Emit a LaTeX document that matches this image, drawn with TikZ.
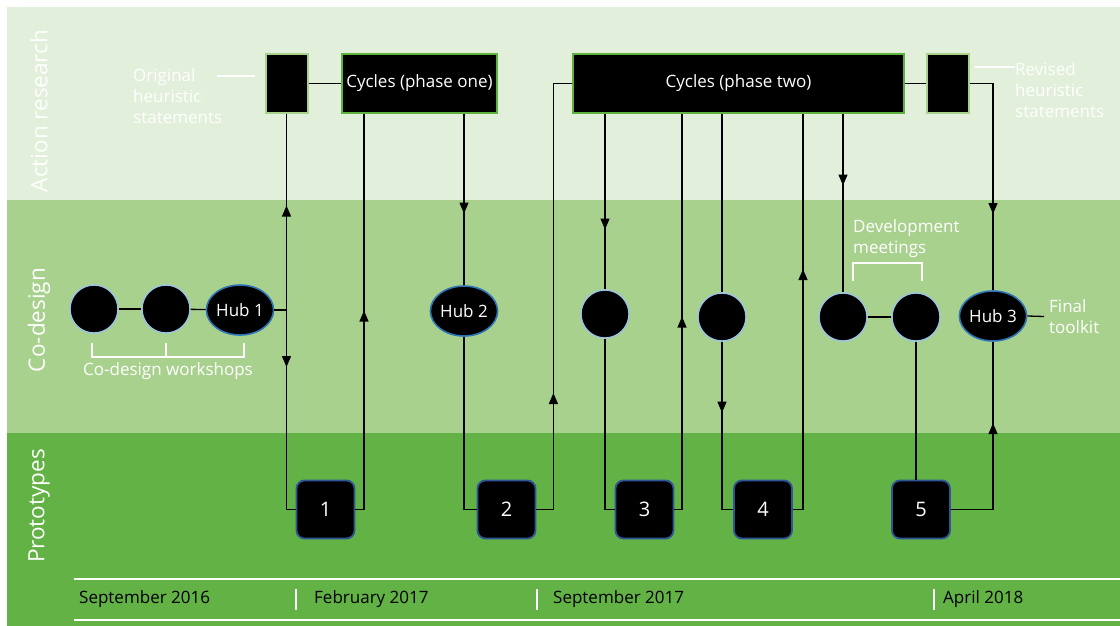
\documentclass[tikz,border=0pt]{standalone}
\usepackage{fontspec}
\setmainfont{Open Sans}
\usetikzlibrary{shapes.geometric, arrows.meta, positioning, calc, decorations.markings}

\definecolor{bandA}{HTML}{E2EFDA}
\definecolor{bandB}{HTML}{A9D18E}
\definecolor{bandC}{HTML}{62B246}
\definecolor{cyclegreen}{HTML}{5CB13F}
\definecolor{lightblue}{HTML}{9DC3E6}
\definecolor{hubblue}{HTML}{2E75B6}
\definecolor{protoblue}{HTML}{2F5597}

\begin{document}
\begin{tikzpicture}[x=1pt, y=-1pt,
    font=\fontsize{17}{21}\selectfont,
    link/.style={line width=1.3pt},
    arrowat/.style={postaction={decorate}, decoration={markings,
        mark=at position #1 with {\arrow{Triangle[length=11pt,width=9pt]}}}},
    heur/.style={rectangle, fill=black, draw=bandB, line width=2pt, minimum width=42pt, minimum height=58pt},
    cycle/.style={rectangle, fill=black, draw=cyclegreen, line width=2pt, minimum height=58pt, text=white},
    meet/.style={circle, fill=black, draw=lightblue, line width=1.4pt, minimum size=48pt, inner sep=0pt},
    hub/.style={ellipse, fill=black, draw=hubblue, line width=1.6pt, minimum width=63pt, minimum height=50pt, inner sep=0pt, text=white},
    proto/.style={rectangle, rounded corners=8pt, fill=black, draw=protoblue, line width=1.8pt, minimum size=58pt, text=white, font=\fontsize{20}{24}\selectfont},
    note/.style={text=white, align=left, inner sep=0pt},
    lane/.style={text=white, rotate=90, font=\fontsize{22.5}{26}\selectfont},
    bracket/.style={draw=white, line width=1.5pt},
    date/.style={anchor=west, inner sep=0pt}]
\useasboundingbox (0,0) rectangle (1120,626);

% Bands
\fill[bandA] (7,7) rectangle (1120,200);
\fill[bandB] (7,200) rectangle (1120,433);
\fill[bandC] (7,433) rectangle (1120,626);
\node[lane] (lar) at (39,111) {Action research};
\node[lane] (lcd) at (39,320) {Co-design};
\node[lane] (lpt) at (39,506) {Prototypes};

% Action research
\node[heur] (s1) at (286.5,83.5) {};
\node[cycle, minimum width=155pt] (cy1) at (419.5,83.5) {Cycles (phase one)};
\node[cycle, minimum width=331pt] (cy2) at (738.5,83.5) {Cycles (phase two)};
\node[heur] (s2) at (948,83.5) {};
\node[note, anchor=west] (orig) at (133,96) {Original\\heuristic\\statements};
\node[note, anchor=west] (rev) at (1015,90) {Revised\\heuristic\\statements};
\draw[bracket] ([xshift=-10pt,yshift=7.5pt]s1.west) -- ++(-38,0);
\draw[bracket] ([xshift=5pt,yshift=16.5pt]s2.east) -- ++(40,0);

% Co-design
\node[meet] (w1) at (94,309) {};
\node[meet] (w2) at (166,309) {};
\node[hub] (hub1) at (240,310) {Hub 1};
\node[hub] (hub2) at (464,311) {Hub 2};
\node[meet] (m1) at (605,314) {};
\node[meet] (m2) at (722,317) {};
\node[meet] (d1) at (843,317) {};
\node[meet] (d2) at (916,317) {};
\node[hub] (hub3) at (993,316) {Hub 3};
\node[note] (cdw) at (168,371) {Co-design workshops};
\node[note, anchor=west] (dev) at (853,239) {Development\\meetings};
\node[note, anchor=west, inner sep=5pt] (final) at (1044,316.5) {Final\\toolkit};
\draw[bracket] (92,343) -- (92,357) -- (244,357) -- (244,343);
\draw[bracket] (166,343) -- (166,357);
\draw[bracket] (853,281) -- (853,263) -- (922,263) -- (922,281);

% Prototypes
\foreach \n/\x in {1/325.5,2/506.5,3/644.5,4/763,5/921}
    \node[proto] (p\n) at (\x,509.5) {\n};

% Links
\draw[link] (s1) -- (cy1);
\draw[link] (w1) -- (w2);
\draw[link] (w2) -- (hub1);
\draw[link, arrowat=116.5pt] (hub1.east) -| (s1.south);
\draw[link, arrowat=57pt] (hub1.east -| s1.south) |- (p1.west);
\draw[link, arrowat=207.5pt] (p1.east) -| ([xshift=23pt]cy1.south west);
\draw[link, arrowat=100pt] (hub2.north |- cy1.south) -- (hub2.north);
\draw[link] (hub2.south) |- (p2.west);
\draw[link, arrowat=133.5pt] (p2.east) -- ++(17,0) |- (cy2.west);
\draw[link, arrowat=116pt] (m1.north |- cy2.south) -- (m1.north);
\draw[link] (m1.south) |- (p3.west);
\draw[link, arrowat=200.5pt] (p3.east) -| ([xshift=110pt]cy2.south west);
\draw[link] (m2.north |- cy2.south) -- (m2.north);
\draw[link, arrowat=71pt] (m2.south) |- (p4.west);
\draw[link, arrowat=250.5pt] (p4.east) -| ([xshift=231pt]cy2.south west);
\draw[link, arrowat=72pt] (d1.north |- cy2.south) -- (d1.north);
\draw[link] (d1) -- (d2);
\draw[link] (d2.south) -- (d2.south |- p5.north);
\draw[link] (cy2) -- (s2);
\draw[link, arrowat=153.5pt] (s2.east) -| (hub3.north);
\draw[link, arrowat=128.5pt] (p5.east) -| (hub3.south);
\draw[link] (hub3.east) -- (final.west);

% Timeline
\draw[bracket] (74,579) -- (1120,579);
\draw[bracket] (74,620) -- (1120,620);
\foreach \x in {296,537,934}
    \draw[bracket] (\x,589) -- (\x,610);
\node[date] (t1) at (79,599) {September 2016};
\node[date] (t2) at (314,599) {February 2017};
\node[date] (t3) at (553,599) {September 2017};
\node[date] (t4) at (943,599) {April 2018};
\end{tikzpicture}
\end{document}
